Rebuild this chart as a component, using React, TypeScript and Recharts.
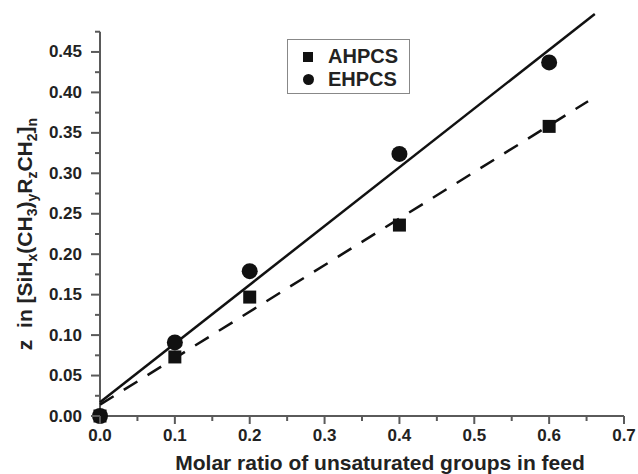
import { ScatterChart, Scatter, XAxis, YAxis, ReferenceLine, Legend, Label } from "recharts";

// measured points: molar ratio in feed vs z
const feedRatio = [0, 0.1, 0.2, 0.4, 0.6];
const ahpcsZ = [0, 0.073, 0.147, 0.236, 0.358];
const ehpcsZ = [0, 0.091, 0.179, 0.324, 0.437];

// fitted lines (end points)
const ahpcsFitX = [0, 0.652];
const ahpcsFitZ = [0.014, 0.389];
const ehpcsFitX = [0, 0.661];
const ehpcsFitZ = [0.017, 0.497];

const xMajor = [0, 0.1, 0.2, 0.3, 0.4, 0.5, 0.6, 0.7];
const xLabels = ["0.0", "0.1", "0.2", "0.3", "0.4", "0.5", "0.6", "0.7"];
const xMinor = [0.05, 0.15, 0.25, 0.35, 0.45, 0.55, 0.65];
const yMajor = [0, 0.05, 0.1, 0.15, 0.2, 0.25, 0.3, 0.35, 0.4, 0.45];
const yLabels = ["0.00", "0.05", "0.10", "0.15", "0.20", "0.25", "0.30", "0.35", "0.40", "0.45"];
const yMinor = [0.025, 0.075, 0.125, 0.175, 0.225, 0.275, 0.325, 0.375, 0.425, 0.475];

const FONT = "'Liberation Sans', Arial, sans-serif";
const AXIS = "#5a5a5a";
const INK = "#111";

const toRows = (xs: number[], ys: number[]) => xs.map((x, i) => ({ x, y: ys[i] }));

const findIdx = (arr: number[], v: number) => arr.findIndex((a) => Math.abs(a - v) < 1e-9);

const XTick = (props: any) => {
  const { x, y, payload } = props;
  const i = findIdx(xMajor, payload.value);
  const major = i >= 0;
  return (
    <g>
      <line x1={x} x2={x} y1={y} y2={y + (major ? 8 : 5)} stroke={AXIS} strokeWidth={2} />
      {major && (
        <text x={x} y={y + 25} textAnchor="middle" fontFamily={FONT} fontWeight={700} fontSize={17} fill="#222">
          {xLabels[i]}
        </text>
      )}
    </g>
  );
};

const YTick = (props: any) => {
  const { x, y, payload } = props;
  const i = findIdx(yMajor, payload.value);
  const major = i >= 0;
  return (
    <g>
      <line x1={x - (major ? 9 : 5)} x2={x} y1={y} y2={y} stroke={AXIS} strokeWidth={2} />
      {major && (
        <text x={x - 18} y={y + 5.5} textAnchor="end" fontFamily={FONT} fontWeight={700} fontSize={17} fill="#222">
          {yLabels[i]}
        </text>
      )}
    </g>
  );
};

const Square = (props: any) => {
  const { cx, cy } = props;
  return <rect x={cx - 6.5} y={cy - 6.5} width={13} height={13} fill={INK} />;
};

const Dot = (props: any) => {
  const { cx, cy } = props;
  return <circle cx={cx} cy={cy} r={8} fill={INK} />;
};

const NoShape = () => <g />;

const LegendBox = (props: any) => {
  const items = (props.payload || []).filter((p: any) => p.type !== "none");
  return (
    <div
      style={{
        width: 123,
        height: 55,
        boxSizing: "border-box",
        border: "1.5px solid #888",
        background: "#fff",
        paddingTop: 5,
        fontFamily: FONT,
        fontWeight: 700,
        fontSize: 20,
        color: "#222",
      }}
    >
      {items.map((p: any) => (
        <div key={p.value} style={{ display: "flex", alignItems: "center", height: 23 }}>
          <div style={{ width: 40, display: "flex", justifyContent: "center" }}>
            {p.value === "AHPCS" ? (
              <span style={{ width: 10, height: 10, background: INK, display: "block" }} />
            ) : (
              <span style={{ width: 11, height: 11, borderRadius: "50%", background: INK, display: "block" }} />
            )}
          </div>
          <span>{p.value}</span>
        </div>
      ))}
    </div>
  );
};

const YTitle = () => (
  <text
    transform="rotate(-90, 25, 234)"
    x={25}
    y={241}
    textAnchor="middle"
    fontFamily={FONT}
    fontWeight={700}
    fontSize={21}
    fill="#222"
  >
    {"z\u00a0\u00a0in [SiH"}
    <tspan fontSize={14} dy={5}>x</tspan>
    <tspan dy={-5}>(CH</tspan>
    <tspan fontSize={14} dy={5}>3</tspan>
    <tspan dy={-5}>)</tspan>
    <tspan fontSize={14} dy={5}>y</tspan>
    <tspan dy={-5}>R</tspan>
    <tspan fontSize={14} dy={5}>z</tspan>
    <tspan dy={-5}>CH</tspan>
    <tspan fontSize={14} dy={5}>2</tspan>
    <tspan dy={-5}>]</tspan>
    <tspan fontSize={14} dy={5}>n</tspan>
  </text>
);

const XTitle = () => (
  <text x={380} y={470} textAnchor="middle" fontFamily={FONT} fontWeight={700} fontSize={21} fill="#222">
    Molar ratio of unsaturated groups in feed
  </text>
);

export default function App() {
  const ahpcs = toRows(feedRatio, ahpcsZ);
  const ehpcs = toRows(feedRatio, ehpcsZ);
  const ahpcsFit = toRows(ahpcsFitX, ahpcsFitZ);
  const ehpcsFit = toRows(ehpcsFitX, ehpcsFitZ);

  return (
    <div style={{ position: "absolute", left: 0, top: 0, background: "#fff" }}>
      <ScatterChart width={638} height={474} margin={{ top: 11.5, right: 14, bottom: 0, left: 0 }}>
        <XAxis
          dataKey="x"
          type="number"
          domain={[0, 0.7]}
          ticks={[...xMajor, ...xMinor].sort((a, b) => a - b)}
          interval={0}
          tick={<XTick />}
          tickLine={false}
          tickSize={0}
          tickMargin={0}
          height={58}
          axisLine={{ stroke: AXIS, strokeWidth: 2 }}
        >
          <Label content={<XTitle />} />
        </XAxis>
        <YAxis
          dataKey="y"
          type="number"
          domain={[0, 0.5]}
          ticks={[...yMajor, ...yMinor].sort((a, b) => a - b)}
          interval={0}
          tick={<YTick />}
          tickLine={false}
          tickSize={0}
          tickMargin={0}
          width={100}
          axisLine={false}
        >
          <Label content={<YTitle />} />
        </YAxis>
        <ReferenceLine
          segment={[
            { x: 0, y: 0 },
            { x: 0, y: 0.475 },
          ]}
          stroke={AXIS}
          strokeWidth={2}
        />
        <Legend
          content={<LegendBox />}
          layout="horizontal"
          align="center"
          verticalAlign="middle"
          wrapperStyle={{ left: 287, top: 39, width: 123, height: 55 }}
        />
        <Scatter
          name="ehpcs-fit"
          data={ehpcsFit}
          fill={INK}
          line={{ stroke: INK, strokeWidth: 2.5 }}
          shape={<NoShape />}
          legendType="none"
          isAnimationActive={false}
        />
        <Scatter
          name="ahpcs-fit"
          data={ahpcsFit}
          fill={INK}
          line={{ stroke: INK, strokeWidth: 2.5, strokeDasharray: "16 12" }}
          shape={<NoShape />}
          legendType="none"
          isAnimationActive={false}
        />
        <Scatter name="AHPCS" data={ahpcs} fill={INK} shape={<Square />} legendType="square" isAnimationActive={false} />
        <Scatter name="EHPCS" data={ehpcs} fill={INK} shape={<Dot />} legendType="circle" isAnimationActive={false} />
      </ScatterChart>
    </div>
  );
}
